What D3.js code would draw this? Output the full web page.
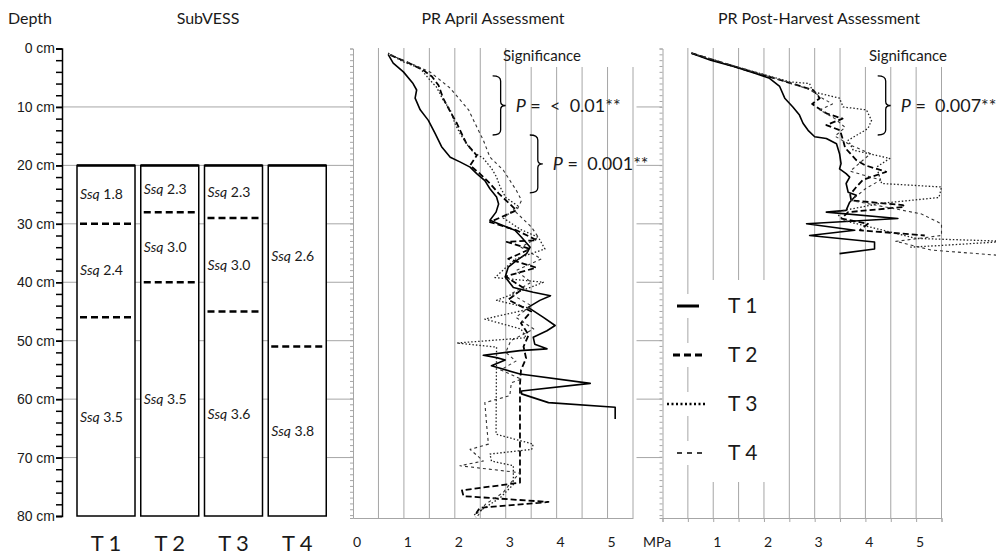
<!DOCTYPE html>
<html>
<head>
<meta charset="utf-8">
<title>SubVESS and penetration resistance</title>
<script src="https://cdn.jsdelivr.net/npm/d3@7"></script>
<style>
    body { margin: 0; background: #fff; }
    svg { font-family: Lato, "Open Sans", sans-serif; fill: #1a1a1a; }
    .gridH, .gridV { stroke: #a6a6a6; stroke-width: 1; }
    .depthAxis path, .depthAxis line { stroke: #000; stroke-width: 1.5; }
    .depthAxis text { font-size: 14px; fill: #1a1a1a; }
    .prAxis path, .prAxis line { stroke: #a6a6a6; stroke-width: 1; }
    .title { font-size: 16px; }
</style>
</head>
<body>
<script>
//SubVESS treatments, layer boundaries (cm) and Ssq scores
var treatments = ["T 1", "T 2", "T 3", "T 4"];
var layerBreaks = [[30, 46], [28, 40], [29, 45], [51]];
var ssqScores = [["1.8", "2.4", "3.5"], ["2.3", "3.0", "3.5"], ["2.3", "3.0", "3.6"], ["2.6", "3.8"]];

//depth and penetration resistance ticks
var depthTicks = [0, 10, 20, 30, 40, 50, 60, 70, 80];
var mpaTicks = [0, 1, 2, 3, 4, 5];

//penetration resistance, April assessment [depth cm, MPa]
var aprilT1 = [[1,0.69],[2.5,0.79],[4,0.99],[6,1.18],[7.1,1.25],[8.5,1.22],[10.5,1.32],[12.3,1.48],[14.5,1.61],[16.8,1.74],[18.6,1.91],[19.4,2.1],[20.3,2.3],[21.4,2.43],[22.6,2.59],[24,2.69],[25.4,2.82],[26.6,2.86],[28,2.81],[29.4,2.69],[31.1,3.18],[32.3,3.31],[34,3.48],[35.1,3.41],[36.3,3.21],[37.4,3.05],[39.1,2.99],[40.9,3.15],[41.7,3.54],[42.3,3.88],[43.1,3.67],[44.3,3.44],[46,3.74],[47.4,3.97],[48.3,3.81],[49.4,3.54],[50.6,3.57],[51.4,3.81],[51.7,3.28],[52.5,2.56],[52.9,2.82],[53.3,2.99],[54.3,2.72],[55.7,3.28],[57.3,4.66],[58.6,3.31],[59.1,3.31],[60.6,3.84],[61.4,5.15],[63.4,5.15]];
var aprilT2 = [[1.1,0.73],[2.3,1.05],[3.7,1.38],[4.8,1.55],[6.3,1.68],[8.5,1.77],[10.8,1.91],[12.8,2.04],[14.5,2.13],[16.3,2.23],[18.3,2.43],[20,2.3],[21.4,2.49],[23.1,2.69],[24.8,2.86],[26.6,3.08],[27.7,3.21],[29.7,2.69],[31.1,3.21],[32.8,3.61],[33.1,3.02],[34.3,3.48],[36,3.05],[37.5,3.6],[39,3.0],[41,3.35],[43,3.05],[45,3.5],[47,3.3],[49,3.45],[51,3.35],[53,3.4],[55,3.3],[57.5,3.28],[74.3,3.28],[75.6,2.14],[76.6,2.17],[77.6,3.84],[78.6,2.49],[79.4,2.43],[80.2,2.41]];
var aprilT3 = [[0.8,0.69],[2.3,0.99],[3.4,1.32],[5.4,1.51],[6.6,1.64],[8.8,1.77],[10.5,1.91],[12.8,2.0],[14.5,2.1],[16.3,2.23],[17.7,2.36],[18.8,2.56],[20.5,2.72],[22,2.82],[23.7,2.89],[25.5,3.0],[27,3.25],[29,2.95],[31,3.3],[32.3,3.64],[34.3,3.77],[36,3.2],[37.5,3.0],[39.2,2.79],[40,3.74],[41.5,3.3],[43.1,2.82],[44.5,3.5],[46.3,2.59],[48,3.3],[49.5,3.4],[50.4,2.04],[51.1,2.82],[66,2.81],[67.7,3.54],[68.6,3.51],[69.4,2.69],[70.6,2.72],[71.4,3.15],[74.6,3.15],[76.9,2.89],[78.5,2.6],[80,2.35]];
var aprilT4 = [[1.1,0.73],[2.5,1.12],[4,1.51],[6.8,1.91],[10.5,2.27],[13.4,2.43],[15.7,2.56],[18.6,2.69],[20.8,2.95],[24.3,3.21],[26,3.31],[28,3.2],[30.6,3.51],[32.3,3.64],[34,3.3],[36,3.7],[38,3.2],[40,3.5],[42,3.1],[44,3.5],[46,3.2],[48,3.55],[50,3.1],[52,3.0],[53.5,3.2],[55,2.9],[56.6,3.31],[57.2,3.11],[59.4,3.08],[60.6,2.59],[64.9,2.63],[67.7,2.66],[68.6,2.3],[70.6,2.56],[71.4,2.1],[72.6,3.28],[74.3,3.1],[76,2.95],[78,2.6],[80,2.45]];

//penetration resistance, post-harvest assessment [depth cm, MPa]
var postT1 = [[0.8,0.57],[2,0.95],[3.1,1.42],[4.3,1.85],[5.1,2.11],[6.5,2.31],[8.5,2.41],[10,2.57],[11.4,2.7],[12.8,2.77],[14,2.87],[15.1,3.0],[15.4,3.23],[16.3,3.43],[18,3.49],[19.7,3.52],[20.6,3.49],[21.4,3.62],[22,3.69],[23.1,3.62],[24.6,3.66],[25.1,3.82],[26.3,3.69],[27.7,3.62],[28,3.23],[29.1,4.64],[30,2.84],[31.1,3.79],[32,2.9],[33.1,4.18],[34.3,4.18],[35.1,3.49]];
var postT2 = [[0.8,0.57],[3.1,1.42],[5.7,2.44],[7.1,2.97],[8.5,3.1],[9.5,2.95],[11.1,3.23],[12,3.55],[13.1,3.23],[14,3.5],[15.7,3.56],[17,3.6],[19.1,3.82],[20,4.0],[21.1,4.41],[22.5,3.95],[23.7,3.82],[25,3.7],[26,3.72],[26.8,4.74],[27.1,4.77],[28,3.66],[29.1,3.53],[30,4.05],[31.1,3.89],[32,5.17]];
var postT3 = [[0.8,0.57],[3.1,1.45],[5.7,2.5],[6,2.9],[7.4,2.96],[8.5,3.49],[10,3.56],[10.5,4.02],[12.3,4.12],[13.7,4.05],[15.7,3.66],[17.4,3.76],[18.8,4.48],[20.3,4.22],[23.1,4.32],[23.7,5.5],[25.5,5.45],[26.5,4.3],[28,3.4],[29.5,3.6],[31,4.3],[32.5,5.0],[33,6.8],[33.7,5.5],[34,4.88]];
var postT4 = [[0.8,0.57],[3.1,1.45],[5.7,2.44],[7,2.9],[8.5,3.15],[9.5,3.35],[10.5,3.1],[12,3.4],[13.5,3.6],[15,3.4],[16.5,3.7],[18,4.1],[19.5,3.9],[21,3.7],[22.5,4.3],[24,4.0],[26,3.72],[28.3,5.1],[30,5.5],[32,5.5],[33,4.6],[34.5,5.3],[35.5,6.8]];

//significance brackets: depth ranges (cm) and labels
var aprilSigRange = [[4.7, 14.8], [14.8, 24.7]];
var aprilSigText = [" =  <  0.01**", " =  0.001**"];
var postSigRange = [[4.7, 14.8]];
var postSigText = [" =  0.007**"];

//begin script when window loads
window.onload = setChart();

function setChart(){

    //frame dimensions
    var width = 996,
        height = 557;

    var svg = d3.select("body")
        .append("svg")
        .attr("width", width)
        .attr("height", height);

    //shared depth scale
    var y = d3.scaleLinear()
        .domain([0, 80])
        .range([48.5, 516]);

    //treatment columns
    var x = d3.scaleBand()
        .domain(treatments)
        .range([77, 326.25])
        .paddingInner(0.09);

    //MPa scales for the two PR panels
    var xApr = d3.scaleLinear().domain([0, 5.5]).range([353, 633]);
    var xPost = d3.scaleLinear().domain([0, 5.5]).range([662.5, 941.5]);

    //line styles per treatment
    var dashes = ["none", "6,3", "1.5,2", "3,3"],
        widths = [1.6, 1.8, 1.3, 1.1],
        colors = ["#000", "#000", "#222", "#333"];

    //titles
    svg.append("text").attr("class", "title").attr("x", 8).attr("y", 24).text("Depth");
    svg.append("text").attr("class", "title").attr("x", 208).attr("y", 24).attr("text-anchor", "middle").text("SubVESS");
    svg.append("text").attr("class", "title").attr("x", 493).attr("y", 24).attr("text-anchor", "middle").text("PR  April Assessment");
    svg.append("text").attr("class", "title").attr("x", 819).attr("y", 24).attr("text-anchor", "middle").text("PR  Post-Harvest Assessment");

    //horizontal depth gridlines behind everything
    svg.selectAll(".gridH")
        .data(depthTicks.filter(function(d){ return d > 0 && d < 80; }))
        .enter()
        .append("line")
        .attr("class", "gridH")
        .attr("x1", 62)
        .attr("x2", 662)
        .attr("y1", function(d){ return y(d); })
        .attr("y2", function(d){ return y(d); });

    //white plot area of April panel covers the gridlines
    svg.append("rect")
        .attr("x", xApr(0) + 0.5)
        .attr("y", y(0) - 2)
        .attr("width", 636 - xApr(0))
        .attr("height", 520 - y(0))
        .attr("fill", "#fff");

    //depth axis with minor ticks every 2 cm
    svg.append("g")
        .attr("class", "depthAxis")
        .attr("transform", "translate(62,0)")
        .call(d3.axisLeft(y).tickValues(d3.range(0, 81, 2)).tickSize(6).tickFormat(""));

    svg.append("g")
        .attr("class", "depthAxis")
        .attr("transform", "translate(62,0)")
        .call(d3.axisLeft(y).tickValues(depthTicks).tickSize(6).tickPadding(1)
            .tickFormat(function(d){ return d + " cm"; }))
        .call(function(g){ g.select(".domain").remove(); });

    //SubVESS columns
    var cols = svg.selectAll(".col")
        .data(treatments)
        .enter()
        .append("g")
        .attr("class", "col");

    cols.append("rect")
        .attr("x", function(d){ return x(d); })
        .attr("y", y(20))
        .attr("width", x.bandwidth())
        .attr("height", y(80) - y(20))
        .attr("fill", "#fff")
        .attr("stroke", "#000")
        .attr("stroke-width", 1.5);

    cols.append("line")
        .attr("x1", function(d){ return x(d); })
        .attr("x2", function(d){ return x(d) + x.bandwidth(); })
        .attr("y1", y(20))
        .attr("y2", y(20))
        .attr("stroke", "#000")
        .attr("stroke-width", 2.5);

    //layer boundaries
    cols.each(function(t, i){
        var g = d3.select(this),
            breaks = layerBreaks[i],
            bounds = [20].concat(breaks).concat([80]);

        g.selectAll(".brk")
            .data(breaks)
            .enter()
            .append("line")
            .attr("x1", x(t) + 3)
            .attr("x2", x(t) + x.bandwidth() - 3)
            .attr("y1", function(d){ return y(d); })
            .attr("y2", function(d){ return y(d); })
            .attr("stroke", "#000")
            .attr("stroke-width", 2.5)
            .attr("stroke-dasharray", "7,4");

        //Ssq score at middle of each layer
        var lab = g.selectAll(".ssq")
            .data(ssqScores[i])
            .enter()
            .append("text")
            .attr("x", x(t) + 3)
            .attr("y", function(d, j){ return y((bounds[j] + bounds[j + 1]) / 2); })
            .attr("dy", "0.35em")
            .style("font-size", "14px");
        lab.append("tspan").style("font-style", "italic").text("Ssq");
        lab.append("tspan").text(function(d){ return " " + d; });
    });

    //treatment labels under columns
    svg.selectAll(".tlab")
        .data(treatments)
        .enter()
        .append("text")
        .attr("x", function(d){ return x(d) + x.bandwidth() / 2; })
        .attr("y", 551)
        .attr("text-anchor", "middle")
        .style("font-size", "22px")
        .text(function(d){ return d; });

    //draw one PR panel
    function drawPanel(xs, series, sigRange, sigText, sigX, boxX, isPost){

        //vertical gridlines every 0.5 MPa
        svg.append("g")
            .selectAll("line")
            .data(d3.range(0.5, 5.51, 0.5))
            .enter()
            .append("line")
            .attr("class", "gridV")
            .attr("x1", function(d){ return xs(d); })
            .attr("x2", function(d){ return xs(d); })
            .attr("y1", y(0) - 0.5)
            .attr("y2", 518);

        //white box behind the significance heading
        svg.append("rect")
            .attr("x", boxX)
            .attr("y", 40)
            .attr("width", isPost ? 996 - boxX : 636 - boxX)
            .attr("height", 27)
            .attr("fill", "#fff");

        //left axis with 1 cm minor ticks
        svg.append("g")
            .attr("class", "prAxis")
            .attr("transform", "translate(" + xs(0) + ",0)")
            .call(d3.axisLeft(d3.scaleLinear().domain([0, 80.5]).range([y(0), 518]))
                .tickValues(d3.range(0, 81, 1)).tickSize(3).tickFormat(""));

        //bottom axis line
        svg.append("g")
            .attr("class", "prAxis")
            .attr("transform", "translate(0,518)")
            .call(d3.axisBottom(xs).tickValues(d3.range(0, 5.51, 0.5))
                .tickSize(isPost ? 4 : 0).tickFormat(""));

        //MPa labels
        svg.append("g")
            .selectAll("text")
            .data(isPost ? mpaTicks.slice(1) : mpaTicks)
            .enter()
            .append("text")
            .attr("x", function(d){ return xs(d) + 4; })
            .attr("y", 547)
            .attr("text-anchor", "middle")
            .style("font-size", "14px")
            .text(function(d){ return d; });

        //significance heading, brackets and P values
        svg.append("text")
            .attr("x", boxX + (isPost ? 17 : -13))
            .attr("y", 61)
            .style("font-size", "15px")
            .text("Significance");

        sigRange.forEach(function(r, i){
            var sx = xs(sigX[i]),
                y0 = y(r[0]),
                y1 = y(r[1]),
                ym = (y0 + y1) / 2;
            var p = "M" + (sx - 8) + "," + y0 +
                " Q" + sx + "," + y0 + " " + sx + "," + (y0 + 5) +
                " L" + sx + "," + (ym - 4) +
                " Q" + sx + "," + ym + " " + (sx + 5) + "," + ym +
                " Q" + sx + "," + ym + " " + sx + "," + (ym + 4) +
                " L" + sx + "," + (y1 - 5) +
                " Q" + sx + "," + y1 + " " + (sx - 8) + "," + y1;
            svg.append("path")
                .attr("d", p)
                .attr("fill", "none")
                .attr("stroke", "#000")
                .attr("stroke-width", 1.3);
            var t = svg.append("text")
                .attr("x", sx + 15)
                .attr("y", ym)
                .attr("dy", "0.35em")
                .style("font-size", "18px")
                .style("white-space", "pre");
            t.append("tspan").style("font-style", "italic").text("P");
            t.append("tspan").text(sigText[i]);
        });

        //PR profiles
        var line = d3.line()
            .x(function(d){ return xs(d[1]); })
            .y(function(d){ return y(d[0]); });

        svg.append("g")
            .selectAll("path")
            .data(series)
            .enter()
            .append("path")
            .attr("d", line)
            .attr("fill", "none")
            .attr("stroke", function(d, i){ return colors[i]; })
            .attr("stroke-width", function(d, i){ return widths[i]; })
            .attr("stroke-dasharray", function(d, i){ return dashes[i]; })
            .attr("stroke-linejoin", "round");
    }

    drawPanel(xApr, [aprilT1, aprilT2, aprilT3, aprilT4], aprilSigRange, aprilSigText, [2.9, 3.63], 516, false);
    drawPanel(xPost, [postT1, postT2, postT3, postT4], postSigRange, postSigText, [4.4], 852, true);

    //MPa unit label at the origin of the post-harvest axis
    svg.append("text")
        .attr("x", 643)
        .attr("y", 547)
        .style("font-size", "14px")
        .text("MPa");

    //legend in the post-harvest panel
    var legDash = ["none", "7,4", "2,2.5", "5,5"],
        legWidth = [3, 3, 2.5, 1.5],
        legX1 = [677, 673, 667, 677],
        legX2 = [699, 705, 705, 705];

    svg.append("rect")
        .attr("x", 700)
        .attr("y", 280)
        .attr("width", 75)
        .attr("height", 202)
        .attr("fill", "#fff");

    var leg = svg.selectAll(".leg")
        .data(treatments)
        .enter()
        .append("g")
        .attr("class", "leg")
        .attr("transform", function(d, i){ return "translate(0," + (306 + i * 49) + ")"; });

    leg.append("rect")
        .attr("x", function(d, i){ return legX1[i] - 3; })
        .attr("y", -12)
        .attr("width", function(d, i){ return legX2[i] - legX1[i] + 6; })
        .attr("height", 24)
        .attr("fill", "#fff");

    leg.append("line")
        .attr("x1", function(d, i){ return legX1[i]; })
        .attr("x2", function(d, i){ return legX2[i]; })
        .attr("stroke", "#000")
        .attr("stroke-width", function(d, i){ return legWidth[i]; })
        .attr("stroke-dasharray", function(d, i){ return legDash[i]; });

    leg.append("text")
        .attr("x", 728)
        .attr("dy", "0.35em")
        .style("font-size", "21px")
        .text(function(d){ return d; });
}
</script>
</body>
</html>
